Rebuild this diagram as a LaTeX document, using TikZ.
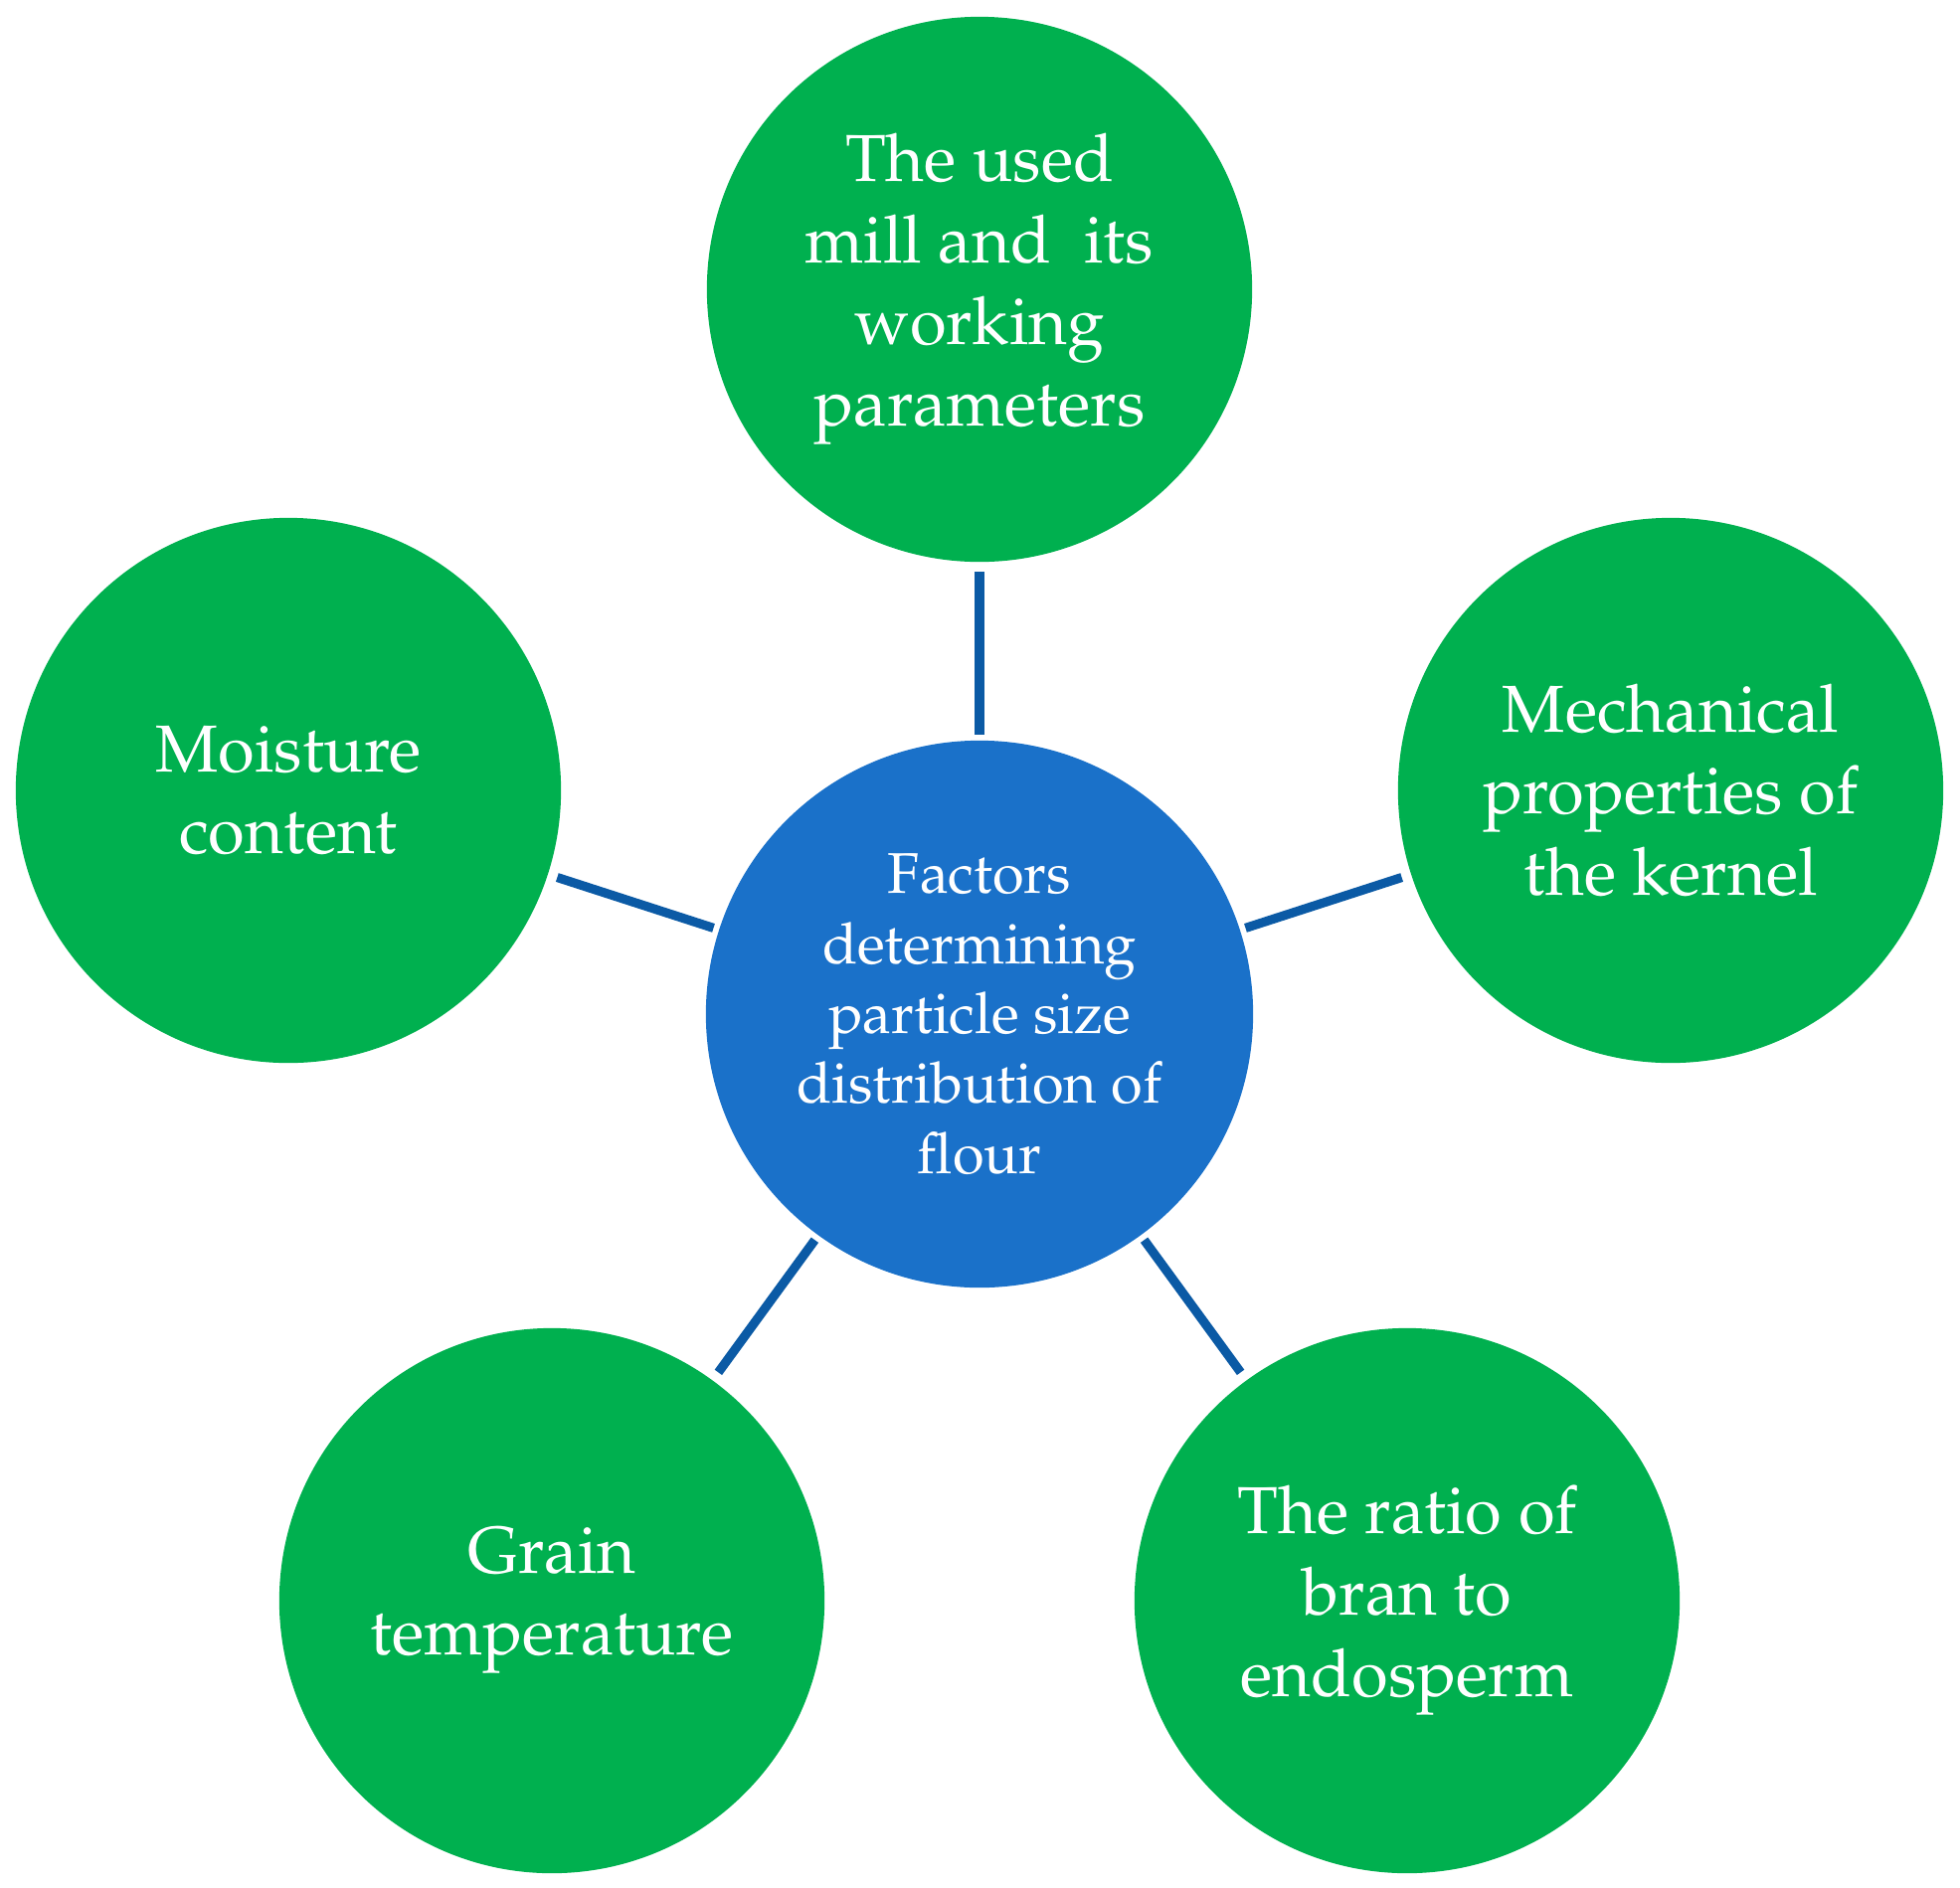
\documentclass[tikz,border=0pt]{standalone}
\usepackage[T1]{fontenc}
\usepackage{mathpazo}
\definecolor{cgreen}{HTML}{00B04F}
\definecolor{cblue}{HTML}{1A71C9}
\definecolor{cline}{HTML}{0B5AA5}
\begin{document}
\begin{tikzpicture}[x=0.01cm,y=-0.01cm,
  outer/.style={circle,fill=cgreen,draw=none,minimum size=5.48cm,inner sep=0pt,outer sep=0pt,
    text=white,align=center,font=\fontsize{19}{23.3}\selectfont},
  hub/.style={circle,fill=cblue,draw=none,minimum size=5.5cm,inner sep=0pt,outer sep=0pt,
    text=white,align=center,font=\fontsize{16.4}{20}\selectfont},
  link/.style={draw=cline,line width=2.6pt,shorten <=0.1cm,shorten >=0.06cm}]
\useasboundingbox (0,0) rectangle (1971,1899);
\node[hub] (c) at (985,1020) {Factors\\determining\\particle size\\distribution of\\flour};
\node[outer] (t) at (985,291) {The used\\mill and~ its\\working\\parameters};
\node[outer] (r) at (1680,795) {Mechanical\\properties of\\the kernel};
\node[outer] (l) at (290,795) {Moisture\\content};
\node[outer] (bl) at (555,1610) {Grain\\temperature};
\node[outer] (br) at (1415,1610) {The ratio of\\bran to\\endosperm};
\draw[link] (t) -- (c);
\draw[link] (r) -- (c);
\draw[link] (l) -- (c);
\draw[link] (bl) -- (c);
\draw[link] (br) -- (c);
\end{tikzpicture}
\end{document}
